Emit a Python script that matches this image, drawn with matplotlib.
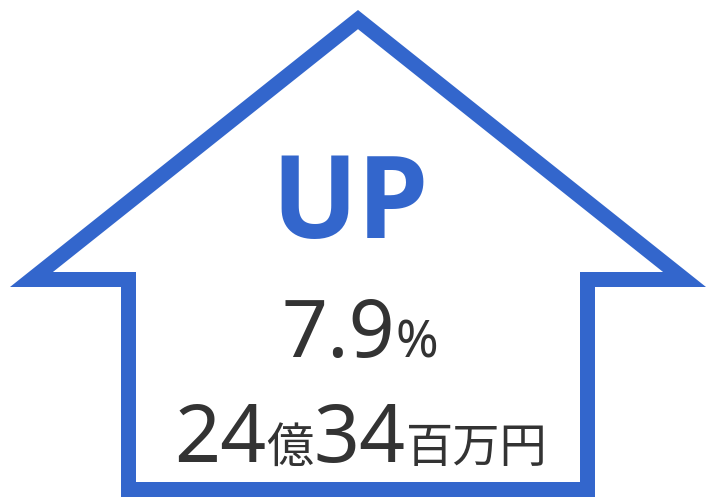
import matplotlib
matplotlib.use("Agg")
import matplotlib.pyplot as plt
from matplotlib.path import Path
from matplotlib.patches import PathPatch
import numpy as np

plt.rcParams['font.family'] = ['Noto Sans', 'Noto Sans CJK JP', 'DejaVu Sans']

# content
headline = "UP"
line1 = [("7.9", "big"), ("%", "pct")]
line2 = [("24", "big"), ("億", "unit"), ("34", "big"), ("百万円", "unit")]

blue = "#3366cc"
dark = "#333333"

W, H = 708, 498
fig = plt.figure(figsize=(W / 100, H / 100), dpi=100)
ax = fig.add_axes([0, 0, 1, 1])
ax.set_xlim(0, W)
ax.set_ylim(H, 0)
ax.set_axis_off()

# arrow outline (pixel units)
cx, tip_y, wing_half, shoulder_y, shaft_half, bottom_y, stroke = 358, 10, 348, 287, 237, 497, 15
s = (shoulder_y - tip_y) / wing_half
outer = [(cx, tip_y), (cx + wing_half, shoulder_y), (cx + shaft_half, shoulder_y),
         (cx + shaft_half, bottom_y), (cx - shaft_half, bottom_y),
         (cx - shaft_half, shoulder_y), (cx - wing_half, shoulder_y)]
itip = tip_y + stroke * np.sqrt(1 + s * s)
ish = shoulder_y - stroke
iw = (ish - itip) / s
inner = [(cx, itip), (cx - iw, ish), (cx - shaft_half + stroke, ish),
         (cx - shaft_half + stroke, bottom_y - stroke), (cx + shaft_half - stroke, bottom_y - stroke),
         (cx + shaft_half - stroke, ish), (cx + iw, ish)]

verts = outer + [outer[0]] + inner + [inner[0]]
codes = ([Path.MOVETO] + [Path.LINETO] * 6 + [Path.CLOSEPOLY]) * 2
ax.add_patch(PathPatch(Path(verts, codes), facecolor=blue, edgecolor='none'))

ax.text(350, 238, headline, color=blue, fontsize=82, fontweight='bold',
        family=['Open Sans', 'Noto Sans CJK JP'], ha='center', va='baseline')

sizes = {"big": 58, "pct": 37, "unit": 34}
renderer = fig.canvas.get_renderer()


def draw_line(parts, center_x, base_y):
    texts = []
    for txt, kind in parts:
        t = ax.text(0, base_y, txt, color=dark, fontsize=sizes[kind],
                    ha='left', va='baseline')
        texts.append(t)
    widths = [t.get_window_extent(renderer).width for t in texts]
    x = center_x - sum(widths) / 2
    for t, w in zip(texts, widths):
        t.set_x(x)
        x += w


draw_line(line1, 360, 357)
draw_line(line2, 361, 462)

fig.savefig("out.png", dpi=100)
